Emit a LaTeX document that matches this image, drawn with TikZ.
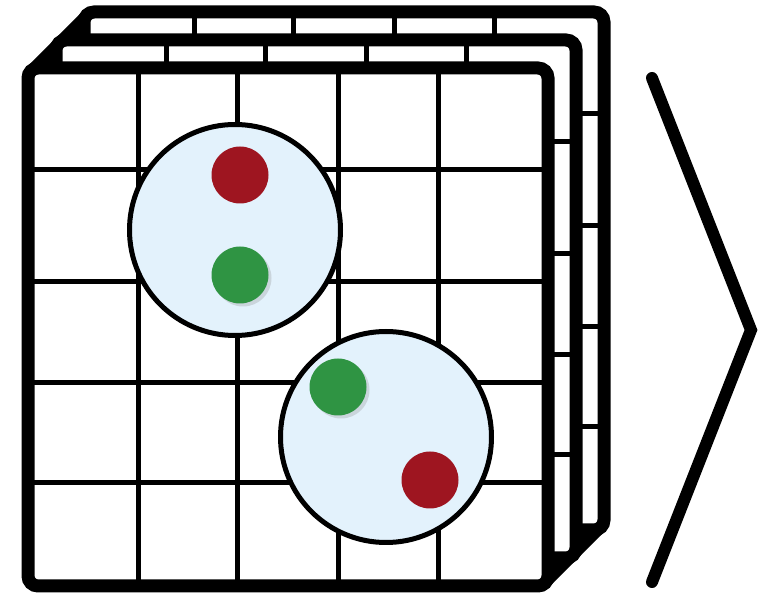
\documentclass[tikz,border=0pt]{standalone}
\usepackage{xcolor}
\usepackage{tikz}
\usetikzlibrary{shadows}
\definecolor{dotred}{HTML}{9E1520}
\definecolor{dotgreen}{HTML}{2F9443}
\definecolor{poolfill}{HTML}{E3F2FC}

\begin{document}
\begin{tikzpicture}[x=1pt, y=-1pt,
  frame/.style    = {draw=black, line width=13pt, rounded corners=10pt},
  sheet/.style    = {fill=white, rounded corners=10pt},
  gridline/.style = {draw=black, line width=5pt},
  edge/.style     = {draw=black, line width=13pt},
  pool/.style     = {circle, draw=black, line width=5pt, fill=poolfill, minimum size=211pt, inner sep=0pt},
  reddot/.style   = {circle, fill=dotred, minimum size=57pt, inner sep=0pt},
  greendot/.style = {circle, fill=dotgreen, minimum size=57pt, inner sep=0pt,
                     drop shadow={shadow xshift=3pt, shadow yshift=-3pt, opacity=0.25}},
  chev/.style     = {draw=black, line width=12pt, line cap=round, line join=miter},
]
\useasboundingbox (0,0) rectangle (780,593);
% corner edges of the stack
\draw[edge] (31.5,71.5) -- (87.5,15.5);
\draw[edge] (544.5,582.5) -- (600.5,526.5);
% layers, back to front
\foreach \d in {56,28,0} {
  \path[sheet] (28+\d,68-\d) rectangle (548+\d,586-\d);
  \foreach \x in {138,237,338,438}
    \draw[gridline] (\x+\d,68-\d) -- (\x+\d,586-\d);
  \foreach \y in {170,282,383,483}
    \draw[gridline] (28+\d,\y-\d) -- (548+\d,\y-\d);
  \draw[frame] (28+\d,68-\d) rectangle (548+\d,586-\d);
}
% pools with points
\node[pool] (poolA) at (235,230) {};
\node[pool] (poolB) at (386,437) {};
\node[reddot] (redA) at (240,175) {};
\node[greendot] (greenA) at (240,275) {};
\node[greendot] (greenB) at (338,387) {};
\node[reddot] (redB) at (430,480) {};
% chevron
\coordinate (chevtop) at (652,78);
\coordinate (chevtip) at (751,330);
\coordinate (chevbot) at (652,582);
\draw[chev] (chevtop) -- (chevtip) -- (chevbot);
\end{tikzpicture}
\end{document}
